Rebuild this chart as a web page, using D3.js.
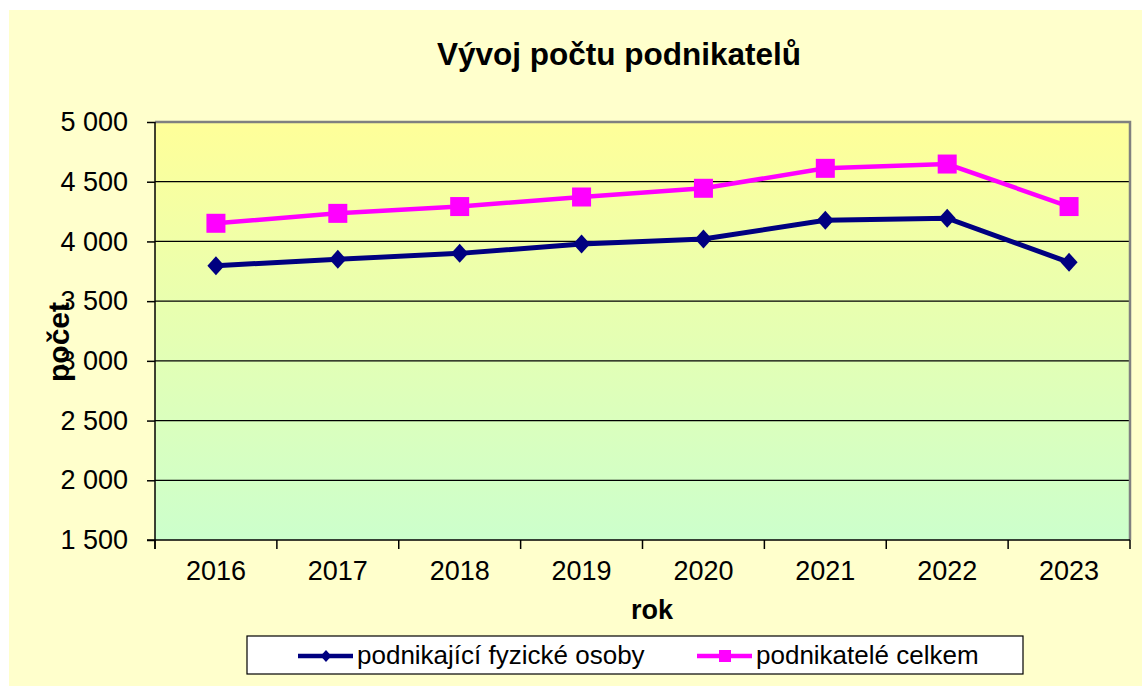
<!DOCTYPE html>
<html>
<head>
<meta charset="utf-8">
<script src="https://cdn.jsdelivr.net/npm/d3@7"></script>
<style>
  body { margin: 0; background: #fff; }
  svg { display: block; font-family: "Liberation Sans", Arial, sans-serif; }
  .axis path, .axis line { stroke: #000; }
  .axis text { fill: #000; }
</style>
</head>
<body>
<svg id="chart"></svg>
<script>
var years = ["2016", "2017", "2018", "2019", "2020", "2021", "2022", "2023"]
var fyzickeOsoby = [3797, 3850, 3900, 3978, 4020, 4178, 4195, 3825]
var celkem = [4152, 4235, 4292, 4372, 4445, 4612, 4648, 4292]
var yTicks = [1500, 2000, 2500, 3000, 3500, 4000, 4500, 5000]
var seriesNames = ["podnikající fyzické osoby", "podnikatelé celkem"]

var width = 1142
var height = 686

var margin = {
  top: 122,
  right: 12,
  bottom: 146,
  left: 155
}
var plotW = width - margin.left - margin.right
var plotH = height - margin.top - margin.bottom

var locale = d3.formatLocale({ decimal: ",", thousands: " ", grouping: [3], currency: ["", ""] })
var fmt = locale.format(",")

var svg = d3.select("#chart")
  .attr("width", width)
  .attr("height", height)

// outer panel
svg.append("rect")
  .attr("x", 9)
  .attr("y", 10)
  .attr("width", width - 9)
  .attr("height", height - 10)
  .attr("fill", "#ffffcc")

var defs = svg.append("defs")
var grad = defs.append("linearGradient")
  .attr("id", "plotbg")
  .attr("x1", 0).attr("y1", 0)
  .attr("x2", 0).attr("y2", 1)
grad.append("stop").attr("offset", "0%").attr("stop-color", "#ffff99")
grad.append("stop").attr("offset", "100%").attr("stop-color", "#ccffcc")

svg.append("text")
  .attr("x", 619)
  .attr("y", 65)
  .attr("text-anchor", "middle")
  .attr("font-size", 31.5)
  .attr("font-weight", "bold")
  .text("Vývoj počtu podnikatelů")

var g = svg.append("g")
  .attr("transform", "translate(" + margin.left + "," + margin.top + ")")

var y = d3.scaleLinear()
  .domain([1500, 5000])
  .range([plotH, 0])

var x = d3.scaleBand()
  .domain(years)
  .range([0, plotW])

g.append("rect")
  .attr("width", plotW)
  .attr("height", plotH)
  .attr("fill", "url(#plotbg)")

// gridlines
g.selectAll(".grid")
  .data(yTicks.filter(function(d) { return d > 1500 && d < 5000 }))
  .enter().append("line")
  .attr("class", "grid")
  .attr("x1", 0)
  .attr("x2", plotW)
  .attr("y1", function(d) { return y(d) })
  .attr("y2", function(d) { return y(d) })
  .attr("stroke", "#000")
  .attr("stroke-width", 1.2)

// gray border top / right
g.append("path")
  .attr("d", "M0," + y(5000) + "H" + plotW + "V" + plotH)
  .attr("fill", "none")
  .attr("stroke", "#808080")
  .attr("stroke-width", 2.5)

var yAxis = g.append("g")
  .attr("class", "axis")
  .call(d3.axisLeft(y).tickValues(yTicks).tickFormat(fmt).tickSize(8).tickPadding(19))
yAxis.selectAll("text").attr("font-size", 27)
yAxis.select(".domain").attr("d", "M0,0V" + (plotH + 9)).attr("stroke-width", 1.5)
yAxis.selectAll(".tick line").attr("stroke-width", 1.5)

var xAxis = g.append("g")
  .attr("class", "axis")
  .attr("transform", "translate(0," + plotH + ")")
  .call(d3.axisBottom(x).tickSize(0).tickPadding(21))
xAxis.selectAll("text").attr("font-size", 27)
xAxis.select(".domain").attr("d", "M-8,0H" + plotW).attr("stroke-width", 1.5)

// category boundary ticks
xAxis.selectAll(".bound")
  .data(years.concat(["end"]))
  .enter().append("line")
  .attr("class", "bound")
  .attr("x1", function(d, i) { return i < years.length ? x(d) : plotW })
  .attr("x2", function(d, i) { return i < years.length ? x(d) : plotW })
  .attr("y1", 0)
  .attr("y2", 9)
  .attr("stroke", "#000")
  .attr("stroke-width", 1.5)

svg.append("text")
  .attr("x", 652)
  .attr("y", 619)
  .attr("text-anchor", "middle")
  .attr("font-size", 27)
  .attr("font-weight", "bold")
  .text("rok")

svg.append("text")
  .attr("transform", "translate(69,342) rotate(-90)")
  .attr("text-anchor", "middle")
  .attr("font-size", 30)
  .attr("font-weight", "bold")
  .text("počet")

var line = d3.line()
  .x(function(d, i) { return x(years[i]) + x.bandwidth() / 2 })
  .y(function(d) { return y(d) })

g.append("path")
  .datum(fyzickeOsoby)
  .attr("d", line)
  .attr("fill", "none")
  .attr("stroke", "#000080")
  .attr("stroke-width", 5)

g.append("path")
  .datum(celkem)
  .attr("d", line)
  .attr("fill", "none")
  .attr("stroke", "#ff00ff")
  .attr("stroke-width", 4.5)

var diamond = function(cx, cy, r) {
  return "M" + cx + "," + (cy - r) + "L" + (cx + r * 0.9) + "," + cy + "L" + cx + "," + (cy + r) + "L" + (cx - r * 0.9) + "," + cy + "Z"
}

g.selectAll(".dia")
  .data(fyzickeOsoby)
  .enter().append("path")
  .attr("class", "dia")
  .attr("d", function(d, i) { return diamond(x(years[i]) + x.bandwidth() / 2, y(d), 9.5) })
  .attr("fill", "#000080")

g.selectAll(".sq")
  .data(celkem)
  .enter().append("rect")
  .attr("class", "sq")
  .attr("x", function(d, i) { return x(years[i]) + x.bandwidth() / 2 - 9.5 })
  .attr("y", function(d) { return y(d) - 9.5 })
  .attr("width", 19)
  .attr("height", 19)
  .attr("fill", "#ff00ff")

// legend
var legend = svg.append("g")
legend.append("rect")
  .attr("x", 247)
  .attr("y", 636)
  .attr("width", 776)
  .attr("height", 38)
  .attr("fill", "#fff")
  .attr("stroke", "#000")
  .attr("stroke-width", 1.2)

legend.append("line")
  .attr("x1", 298).attr("x2", 353)
  .attr("y1", 656).attr("y2", 656)
  .attr("stroke", "#000080").attr("stroke-width", 4.5)
legend.append("path")
  .attr("d", diamond(326, 656, 6))
  .attr("fill", "#000080")
legend.append("text")
  .attr("x", 357)
  .attr("y", 664)
  .attr("font-size", 26)
  .text(seriesNames[0])

legend.append("line")
  .attr("x1", 697).attr("x2", 752)
  .attr("y1", 656).attr("y2", 656)
  .attr("stroke", "#ff00ff").attr("stroke-width", 4.5)
legend.append("rect")
  .attr("x", 719).attr("y", 650)
  .attr("width", 12).attr("height", 12)
  .attr("fill", "#ff00ff")
legend.append("text")
  .attr("x", 756)
  .attr("y", 664)
  .attr("font-size", 26)
  .text(seriesNames[1])
</script>
</body>
</html>
